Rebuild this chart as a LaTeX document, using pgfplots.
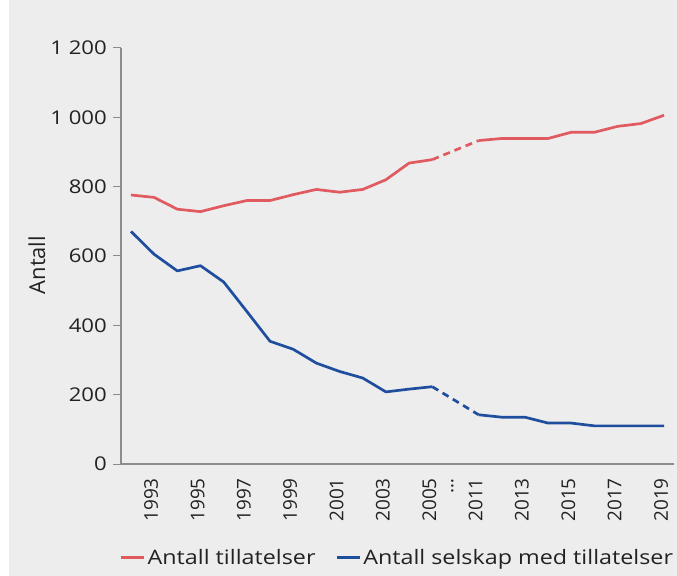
\documentclass[border=0pt]{standalone}
\usepackage{fontspec}
\setmainfont{Open Sans}[FakeStretch=1.17]
\newfontfamily\rotfont{Open Sans}
\usepackage{pgfplots}
\pgfplotsset{compat=1.18}
\definecolor{bg}{HTML}{EDEDED}
\definecolor{axisgray}{HTML}{8C8C8C}
\definecolor{txt}{HTML}{222222}
\definecolor{redline}{HTML}{E05A60}
\definecolor{blueline}{HTML}{1F4E9E}

% x: 0..13 = 1992..2005, 15..23 = 2011..2019 (14 = break)
\begin{document}
\begin{tikzpicture}
\path[use as bounding box] (-121bp,-112bp) rectangle (556bp,464bp);
\fill[bg] (-121bp,-112bp) rectangle (556bp,464bp);
\fill[white] (-121bp,-112bp) rectangle (-112bp,464bp);
\begin{axis}[
  at={(0,0)}, anchor=south west,
  scale only axis, width=553bp, height=416bp,
  xmin=-0.43, xmax=23.43, ymin=0, ymax=1200,
  axis x line*=bottom, axis y line*=left,
  axis line style={draw=axisgray, line width=1.1bp},
  tick align=outside, major tick length=8bp,
  xtick={1,3,5,7,9,11,13,14,15,17,19,21,23},
  xticklabels={1993,1995,1997,1999,2001,2003,2005,{\ldots},2011,2013,2015,2017,2019},
  xtick style={draw=none},
  xticklabel style={rotate=90, anchor=east, inner sep=0pt, text=txt, yshift=3bp,
    font=\rotfont\fontsize{19}{19}\selectfont},
  xticklabel shift=6bp,
  ytick={0,200,400,600,800,1000,1200},
  yticklabels={0,200,400,600,800,{1 000},{1 200}},
  ytick style={draw=axisgray, line width=1bp},
  yticklabel style={inner sep=0pt, text=txt, xshift=-6bp,
    font=\fontsize{19}{19}\selectfont},
  ylabel={Antall},
  ylabel style={at={(axis description cs:-0.152,0.478)}, anchor=center,
    text=txt, font=\rotfont\fontsize{22}{22}\selectfont},
  legend columns=2,
  legend style={at={(axis description cs:0.500,-0.224)}, anchor=center,
    draw=none, fill=none, text=txt, font=\fontsize{20}{20}\selectfont,
    /tikz/every even column/.append style={column sep=18bp},
    nodes={inner sep=2bp}},
  legend image code/.code={\draw[#1] (0bp,0bp) -- (23bp,0bp);},
  every axis plot/.append style={line width=2.7bp, line join=round},
]
% Antall tillatelser
\addplot[redline] coordinates {(0,776)(1,769)(2,735)(3,728)(4,745)(5,760)(6,760)
  (7,777)(8,792)(9,784)(10,792)(11,820)(12,868)(13,878)};
\addlegendentry{Antall tillatelser}
\addplot[redline, dash pattern=on 7bp off 5bp, forget plot] coordinates {(13,878)(15,933)};
\addplot[redline, forget plot] coordinates {(15,933)(16,939)(17,939)(18,939)(19,957)
  (20,957)(21,974)(22,982)(23,1006)};
% Antall selskap med tillatelser
\addplot[blueline] coordinates {(0,671)(1,605)(2,557)(3,572)(4,525)(5,440)(6,354)
  (7,331)(8,291)(9,267)(10,248)(11,208)(12,216)(13,223)};
\addlegendentry{Antall selskap med tillatelser}
\addplot[blueline, dash pattern=on 7bp off 5bp, forget plot] coordinates {(13,223)(15,142)};
\addplot[blueline, forget plot] coordinates {(15,142)(16,135)(17,135)(18,118)(19,118)
  (20,110)(21,110)(22,110)(23,110)};
\end{axis}
\end{tikzpicture}
\end{document}
